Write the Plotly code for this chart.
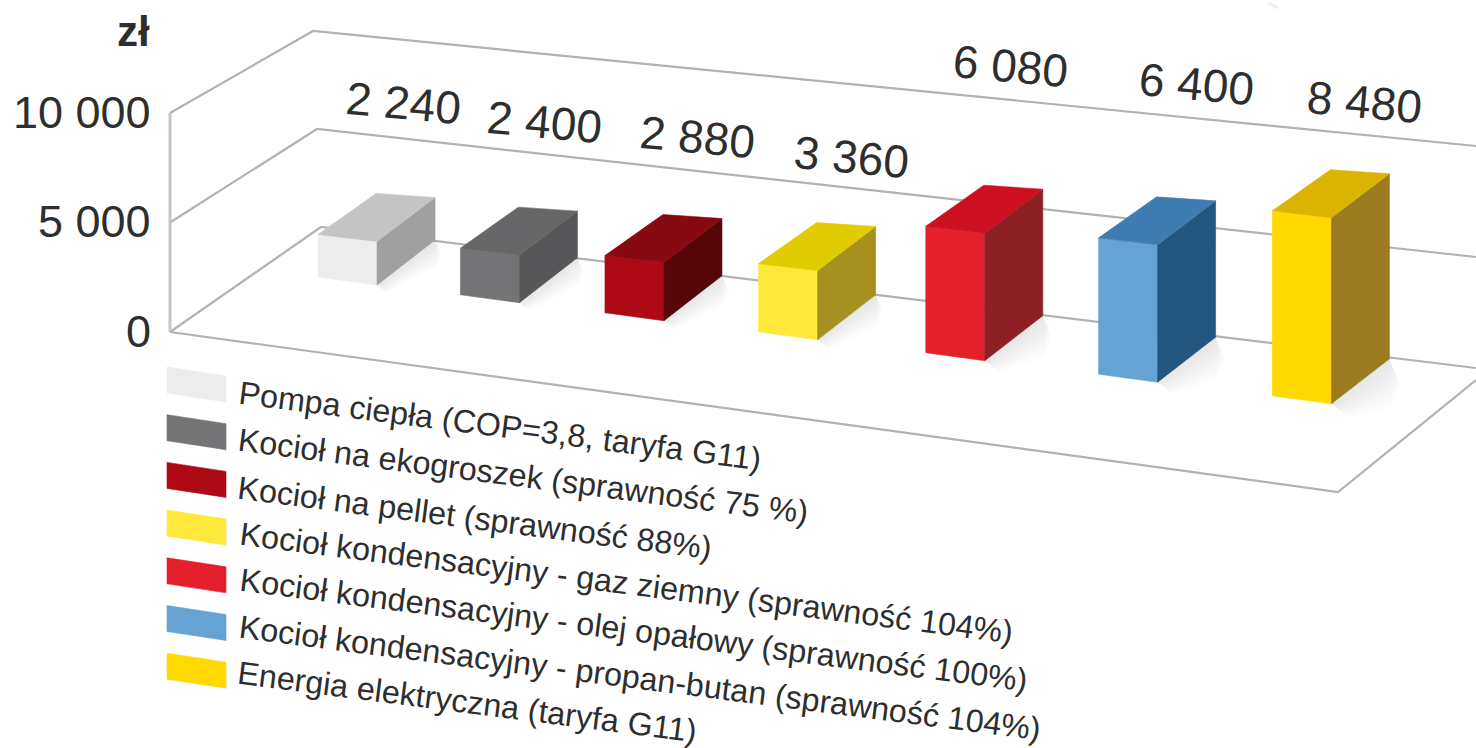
import math

import plotly.graph_objects as go

# Annual heating cost per source, in PLN
categories = [
    "Pompa ciepła (COP=3,8, taryfa G11)",
    "Kocioł na ekogroszek (sprawność 75 %)",
    "Kocioł na pellet (sprawność 88%)",
    "Kocioł kondensacyjny - gaz ziemny (sprawność 104%)",
    "Kocioł kondensacyjny - olej opałowy (sprawność 100%)",
    "Kocioł kondensacyjny - propan-butan (sprawność 104%)",
    "Energia elektryczna (taryfa G11)",
]
values = [2240, 2400, 2880, 3360, 6080, 6400, 8480]
value_labels = ["2 240", "2 400", "2 880", "3 360", "6 080", "6 400", "8 480"]
axis_ticks = [0, 5000, 10000]
axis_tick_labels = ["0", "5 000", "10 000"]

front_colors = ["#ececec", "#747476", "#ae0a16", "#fee83a", "#e4202c", "#65a3d5", "#ffd900"]
top_colors = ["#c4c4c4", "#666668", "#860a10", "#e0cc00", "#cc1020", "#3f7cb2", "#dab400"]
side_colors = ["#a0a0a0", "#57575a", "#560608", "#a59020", "#8c2024", "#23567f", "#9c7a20"]

# Page positions of the rotated texts
value_label_centres = [(403, 103), (544, 122), (697, 137), (851, 157), (1010, 66), (1196, 84), (1364, 102)]
legend_text_centres = [(500, 426), (523, 476), (475, 518), (626, 583), (633, 630), (640, 678), (467, 702)]

GRID = "#b2b2b2"
TEXT = "#2e2e2e"
FONT = "Liberation Sans"

# Oblique view: slot spacing widens smoothly towards the viewer's side
SPACING = 142
SPACING_GAIN = 16
PERSPECTIVE = 0.0216
VALUE_SCALE = 0.0190
BAR_W = 59
BAR_D = 58


def base_point(i):
    """Front-left floor corner of the bar in slot i."""
    x = 318 + SPACING * i + SPACING_GAIN * math.log(1 + math.exp((i - 2.8) / 0.5))
    return x, 277 + 0.1245 * (x - 318)


def bar_height(i, value):
    return value * VALUE_SCALE / (1 - PERSPECTIVE * i)


def wall_left(v):
    return 170, 332 - 0.0219 * v


def wall_corner(v):
    return 321 - 0.0008 * v, 227 - 0.0196 * v


def wall_right(v):
    return 1476, 368 - 0.0222 * v


fig = go.Figure()


def poly(points, color, name=None, edge=0.6):
    xs = [p[0] for p in points] + [points[0][0]]
    ys = [p[1] for p in points] + [points[0][1]]
    fig.add_trace(go.Scatter(
        x=xs, y=ys, mode="lines", fill="toself", fillcolor=color,
        line=dict(width=edge, color=color), hoverinfo="skip", name=name, showlegend=False,
    ))


def line(points, width=2.2, color=GRID):
    fig.add_trace(go.Scatter(
        x=[p[0] for p in points], y=[p[1] for p in points], mode="lines",
        line=dict(width=width, color=color), hoverinfo="skip", showlegend=False,
    ))


# Walls and floor
for v in axis_ticks:
    line([wall_left(v), wall_corner(v), wall_right(v)])
line([wall_left(0), wall_left(max(axis_ticks))], width=3, color="#c6c6c6")
line([wall_left(0), (1338, 492), (1476, 380)])

# Bars, each with a soft floor shadow behind its right flank
for i, (v, name) in enumerate(zip(values, categories)):
    x0, y0 = base_point(i)
    h = bar_height(i, v)
    br = (x0 + BAR_W, y0 + 8)
    bbr = (br[0] + BAR_D, br[1] - 45)
    reach = 0.4 + 0.6 * v / max(values)
    for step in range(12, 0, -1):
        k = reach * step / 12
        poly([
            br, bbr,
            (bbr[0] + 11 * k, bbr[1] + 26 * k),
            (bbr[0] + 2 * k, bbr[1] + 50 * k),
            (br[0] + 18 * k, br[1] + 14 * k),
        ], "rgba(110,110,110,0.012)", edge=0)

    fl_top = (x0, y0 - h)
    fr_top = (x0 + BAR_W, y0 + 8 - h - 1)
    bl_top = (x0 + BAR_D, y0 - h - 41)
    br_top = (fr_top[0] + BAR_D, fr_top[1] - 44)
    poly([(x0, y0), br, fr_top, fl_top], front_colors[i], name)
    poly([br, bbr, br_top, fr_top], side_colors[i])
    poly([fl_top, fr_top, br_top, bl_top], top_colors[i])

annotations = []


def text(x, y, s, size, angle=0, anchor="center", bold=False):
    annotations.append(dict(
        x=x, y=y, xref="x", yref="y", text=f"<b>{s}</b>" if bold else s, showarrow=False,
        textangle=angle, xanchor=anchor, yanchor="middle",
        font=dict(family=FONT, size=size, color=TEXT),
    ))


for (cx, cy), s in zip(value_label_centres, value_labels):
    text(cx, cy, s, 46, angle=5.2)

for v, s in zip(axis_ticks, axis_tick_labels):
    text(153, wall_left(v)[1] - 1, s, 45, anchor="right")
text(152, 31, "zł", 42, anchor="right", bold=True)

# Hand-built legend, sheared to follow the floor
for i, name in enumerate(categories):
    top = 367 + 47.7 * i
    poly([(167, top), (226, top + 9), (226, top + 35), (167, top + 26)], front_colors[i])
    text(legend_text_centres[i][0], legend_text_centres[i][1], name, 32.3, angle=7.3)

# Faint speck in the upper right corner of the page
line([(1268, 3), (1278, 8)], width=3, color="#efefef")

fig.update_layout(
    width=1476, height=748, margin=dict(l=0, r=0, t=0, b=0),
    paper_bgcolor="white", plot_bgcolor="white", showlegend=False,
    annotations=annotations,
    xaxis=dict(range=[0, 1476], visible=False, fixedrange=True),
    yaxis=dict(range=[748, 0], visible=False, fixedrange=True),
)
fig.write_html("out.html", config={"displayModeBar": False})
